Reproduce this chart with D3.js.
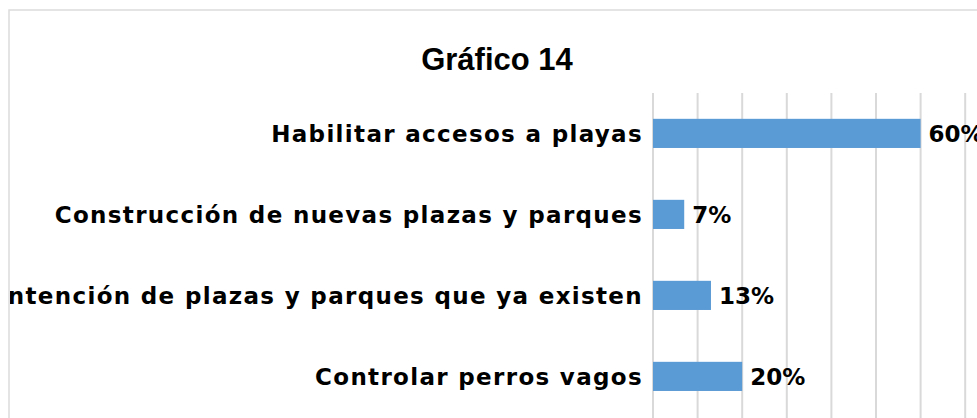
<!DOCTYPE html>
<html>
<head>
<meta charset="utf-8">
<style>
body { margin: 0; background: #fff; }
svg { display: block; }
.cat { font: bold 23px "DejaVu Sans", sans-serif; letter-spacing: 1.33px; fill: #000; }
.val { font: bold 23px "DejaVu Sans", sans-serif; fill: #000; }
.title { font: bold 31px "Liberation Sans", Arial, sans-serif; fill: #000; }
</style>
</head>
<body>
<svg width="977" height="418"></svg>
<script src="https://d3js.org/d3.v7.min.js"></script>
<script>

// data
var categories = [
    "Habilitar accesos a playas",
    "Construcción de nuevas plazas y parques",
    "Mantención de plazas y parques que ya existen",
    "Controlar perros vagos"
];
var values = [0.60, 0.07, 0.13, 0.20];
var valueLabels = ["60%", "7%", "13%", "20%"];
var gridTicks = [0, 0.1, 0.2, 0.3, 0.4, 0.5, 0.6, 0.7, 0.8, 0.9, 1];

var svg = d3.select("svg"),
    width = +svg.attr("width"),
    height = +svg.attr("height");

// the chart area clips its content at the frame
svg.append("clipPath")
    .attr("id", "frameClip")
  .append("rect")
    .attr("x", 10)
    .attr("y", 10)
    .attr("width", 1200)
    .attr("height", 600);

// chart frame (runs off the right and bottom edge)
svg.append("rect")
    .attr("x", 9)
    .attr("y", 10)
    .attr("width", 1200)
    .attr("height", 600)
    .attr("fill", "none")
    .attr("stroke", "#dcdcdc")
    .attr("stroke-width", 1.5);

svg.append("text")
    .attr("class", "title")
    .attr("x", 497)
    .attr("y", 70)
    .attr("text-anchor", "middle")
    .text("Gráfico 14");

var x = d3.scaleLinear()
    .domain([0, 1])
    .range([653, 653 + 446]);

var y = d3.scaleBand()
    .domain(categories)
    .range([92.9, 416.9])
    .paddingInner(0.64)
    .paddingOuter(0.32);

// vertical gridlines
svg.append("g")
    .selectAll("line")
    .data(gridTicks)
    .enter().append("line")
    .attr("x1", function(d) { return x(d); })
    .attr("x2", function(d) { return x(d); })
    .attr("y1", 93)
    .attr("y2", height + 5)
    .attr("stroke", "#d9d9d9")
    .attr("stroke-width", 2);

var rows = categories.map(function(c, i) {
    return { cat: c, value: values[i], label: valueLabels[i] };
});

svg.append("g")
    .selectAll("rect")
    .data(rows)
    .enter().append("rect")
    .attr("x", x(0))
    .attr("y", function(d) { return y(d.cat); })
    .attr("width", function(d) { return x(d.value) - x(0); })
    .attr("height", y.bandwidth())
    .attr("fill", "#5b9bd5");

// category labels
svg.append("g")
    .attr("clip-path", "url(#frameClip)")
    .selectAll("text")
    .data(rows)
    .enter().append("text")
    .attr("class", "cat")
    .attr("x", 643)
    .attr("y", function(d) { return y(d.cat) + y.bandwidth() / 2; })
    .attr("dy", "0.36em")
    .attr("text-anchor", "end")
    .text(function(d) { return d.cat; });

// value labels
svg.append("g")
    .selectAll("text")
    .data(rows)
    .enter().append("text")
    .attr("class", "val")
    .attr("x", function(d) { return x(d.value) + 8; })
    .attr("y", function(d) { return y(d.cat) + y.bandwidth() / 2; })
    .attr("dy", "0.36em")
    .text(function(d) { return d.label; });

</script>
</body>
</html>
